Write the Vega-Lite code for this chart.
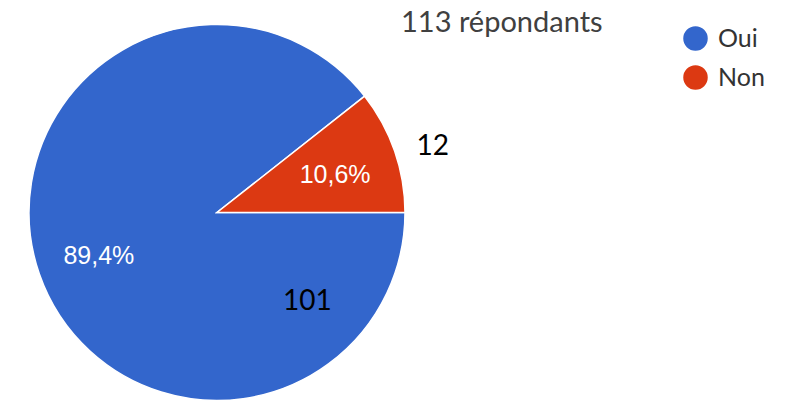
{
  "$schema": "https://vega.github.io/schema/vega-lite/v6.json",
  "width": 434,
  "height": 425,
  "padding": 0,
  "autosize": {"type": "pad"},
  "background": "white",
  "config": {"view": {"stroke": null}},
  "title": {
    "text": "113 répondants",
    "anchor": "start",
    "frame": "group",
    "orient": "top",
    "dx": 401,
    "offset": -38,
    "font": "Lato",
    "fontSize": 29,
    "fontWeight": "normal",
    "color": "#404040"
  },
  "data": {
    "values": [
      {"label": "Oui", "count": 101, "pct": "89,4%"},
      {"label": "Non", "count": 12, "pct": "10,6%"}
    ]
  },
  "encoding": {
    "theta": {
      "field": "count",
      "type": "quantitative",
      "stack": true,
      "scale": {"range": [0.9036, 7.1868]}
    },
    "color": {
      "field": "label",
      "type": "nominal",
      "scale": {"domain": ["Oui", "Non"], "range": ["#3366CC", "#DC3912"]},
      "legend": {
        "title": null,
        "orient": "none",
        "legendX": 683,
        "legendY": 26,
        "symbolType": "circle",
        "symbolSize": 600,
        "symbolStrokeWidth": 0,
        "labelFont": "Lato",
        "labelFontSize": 25,
        "labelColor": "#333333",
        "labelOffset": 10,
        "rowPadding": 13
      }
    }
  },
  "layer": [
    {
      "mark": {"type": "arc", "radius": 188, "stroke": "white", "strokeWidth": 1.5}
    },
    {
      "mark": {"type": "text", "radius": 125, "dy": 3, "font": "Liberation Sans", "fontSize": 25, "color": "white"},
      "encoding": {"text": {"field": "pct"}, "color": {"value": "white"}}
    },
    {
      "mark": {"type": "text", "radius": 226, "thetaOffset": 0.031, "dy": 2, "font": "Lato", "fontSize": 28, "color": "black"},
      "encoding": {
        "text": {"condition": {"test": "datum.label === 'Non'", "field": "count"}, "value": ""},
        "color": {"value": "black"}
      }
    },
    {
      "mark": {"type": "text", "radius": 126, "thetaOffset": -2.037, "dy": 2, "font": "Lato", "fontSize": 28, "color": "black"},
      "encoding": {
        "text": {"condition": {"test": "datum.label === 'Oui'", "field": "count"}, "value": ""},
        "color": {"value": "black"}
      }
    }
  ]
}
